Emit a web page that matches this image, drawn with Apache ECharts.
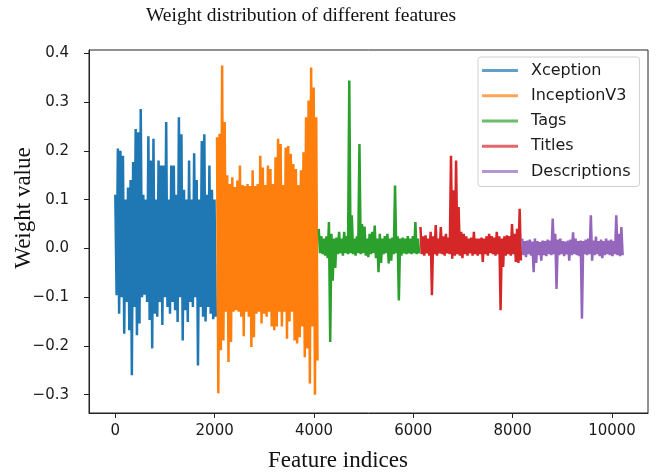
<!DOCTYPE html>
<html>
<head>
<meta charset="utf-8">
<script src="https://cdn.jsdelivr.net/npm/echarts@6/dist/echarts.min.js"></script>
<style>
html,body{margin:0;padding:0;background:#fff;}
#chart{width:661px;height:476px;}
</style>
</head>
<body>
<div id="chart"></div>
<script>
const titleText = 'Weight distribution of different features';
const xAxisName = 'Feature indices';
const yAxisName = 'Weight value';
const seriesNames = ['Xception', 'InceptionV3', 'Tags', 'Titles', 'Descriptions'];
const seriesStart = [0, 2048, 4096, 6144, 8192];
const blockSize = 2048;
const seriesColors = ['#1f77b4', '#ff7f0e', '#2ca02c', '#d62728', '#9467bd'];
const xTickValues = [0, 2000, 4000, 6000, 8000, 10000];
const yTickValues = [-0.3, -0.2, -0.1, 0.0, 0.1, 0.2, 0.3, 0.4];

const xceptionVals = [0.11,-0.096,0.205,-0.134,0.20,-0.10,0.19,-0.175,0.10,-0.11,
0.125,-0.168,0.14,-0.26,0.177,-0.12,0.245,-0.178,0.238,-0.154,
0.286,-0.10,0.11,-0.095,0.10,-0.11,0.23,-0.147,0.18,-0.205,
0.225,-0.134,0.10,-0.14,0.18,-0.11,0.17,-0.157,0.17,-0.10,
0.259,-0.12,0.10,-0.134,0.17,-0.11,0.17,-0.127,0.11,-0.151,
0.269,-0.10,0.234,-0.189,0.12,-0.127,0.10,-0.151,0.18,-0.11,
0.10,-0.12,0.195,-0.10,0.14,-0.24,0.10,-0.12,0.22,-0.14,
0.234,-0.15,0.11,-0.12,0.17,-0.134,0.12,-0.145,0.10,-0.14];

const inceptionVals = [0.228,-0.297,0.235,-0.209,0.375,-0.189,0.259,-0.13,0.15,-0.233,
0.132,-0.192,0.146,-0.13,0.126,-0.127,0.139,-0.13,0.17,-0.14,
0.13,-0.18,0.128,-0.13,0.132,-0.14,0.128,-0.202,0.16,-0.182,
0.128,-0.134,0.132,-0.13,0.19,-0.154,0.166,-0.134,0.13,-0.14,
0.17,-0.13,0.163,-0.16,0.132,-0.168,0.187,-0.16,0.225,-0.13,
0.214,-0.16,0.13,-0.13,0.207,-0.185,0.21,-0.15,0.194,-0.13,
0.173,-0.189,0.163,-0.195,0.13,-0.182,0.16,-0.16,0.197,-0.223,
0.269,-0.205,0.303,-0.277,0.371,-0.16,0.33,-0.30,0.269,-0.23];

const tagsVals = [0.04,-0.01,0.025,-0.012,0.02,-0.015,0.025,-0.02,0.054,-0.192,
0.03,-0.066,0.02,-0.04,0.022,-0.012,0.034,-0.01,0.02,-0.015,
0.034,-0.01,0.025,-0.012,0.344,-0.01,0.068,-0.012,0.02,-0.015,
0.025,-0.01,0.214,-0.012,0.05,-0.01,0.045,-0.015,0.02,-0.018,
0.03,-0.012,0.034,-0.01,0.047,-0.02,0.02,-0.049,0.03,-0.03,
0.02,-0.012,0.025,-0.01,0.03,-0.031,0.02,-0.025,0.022,-0.012,
0.129,-0.01,0.025,-0.107,0.02,-0.015,0.022,-0.01,0.02,-0.012,
0.025,-0.01,0.02,-0.012,0.025,-0.01,0.054,-0.012,0.02,-0.01];

const titlesVals = [0.044,-0.012,0.025,-0.015,0.027,-0.01,0.02,-0.015,0.034,-0.096,
0.025,-0.012,0.048,-0.015,0.02,-0.01,0.044,-0.012,0.025,-0.015,
0.03,-0.01,0.022,-0.012,0.19,-0.021,0.119,-0.015,0.18,-0.012,
0.085,-0.015,0.034,-0.02,0.03,-0.012,0.025,-0.015,0.02,-0.01,
0.022,-0.015,0.034,-0.012,0.02,-0.015,0.02,-0.012,0.022,-0.028,
0.02,-0.012,0.025,-0.015,0.03,-0.01,0.025,-0.012,0.022,-0.015,
0.034,-0.012,0.025,-0.127,0.02,-0.038,0.025,-0.015,0.027,-0.012,
0.025,-0.015,0.05,-0.012,0.03,-0.028,0.04,-0.03,0.081,-0.025];

const descriptionsVals = [0.02,-0.014,0.015,-0.018,0.016,-0.012,0.018,-0.015,0.014,-0.049,
0.02,-0.03,0.015,-0.014,0.013,-0.025,0.016,-0.014,0.015,-0.016,
0.018,-0.012,0.016,-0.014,0.061,-0.012,0.03,-0.083,0.018,-0.014,
0.02,-0.012,0.015,-0.016,0.014,-0.012,0.016,-0.025,0.018,-0.014,
0.033,-0.012,0.02,-0.014,0.015,-0.016,0.016,-0.144,0.015,-0.012,
0.018,-0.014,0.02,-0.012,0.068,-0.025,0.016,-0.014,0.024,-0.012,
0.015,-0.016,0.018,-0.02,0.015,-0.014,0.02,-0.012,0.016,-0.014,
0.018,-0.016,0.015,-0.012,0.068,-0.014,0.03,-0.016,0.044,-0.014];

const allVals = [xceptionVals, inceptionVals, tagsVals, titlesVals, descriptionsVals];

function toPairs(vals, start) {
  const step = blockSize / vals.length;
  return vals.map((v, i) => [start + i * step, v]);
}

const fmtY = v => (v < 0 ? '\u2212' : '') + Math.abs(v).toFixed(1);

const chart = echarts.init(document.getElementById('chart'), null, {renderer: 'canvas'});
chart.setOption({
  animation: false,
  backgroundColor: '#ffffff',
  grid: {left: 89, right: 13, top: 50, bottom: 63, show: true, borderColor: '#222', borderWidth: 1, containLabel: false},
  graphic: [
    {type: 'text', x: 301, y: 15.5, style: {text: titleText, font: '19.5px "Liberation Serif"', fill: '#111', align: 'center', verticalAlign: 'middle'}},
    {type: 'text', x: 338, y: 461, style: {text: xAxisName, font: '23px "Liberation Serif"', fill: '#111', align: 'center', verticalAlign: 'middle'}},
    {type: 'text', x: 24, y: 208, rotation: Math.PI / 2, style: {text: yAxisName, font: '23px "Liberation Serif"', fill: '#111', align: 'center', verticalAlign: 'middle'}}
  ],
  legend: {
    orient: 'vertical',
    left: 478, top: 57,
    padding: [5.5, 9, 7, 4],
    itemWidth: 36, itemHeight: 3, itemGap: 9.25,
    icon: 'rect',
    backgroundColor: '#fff',
    borderColor: '#d0d0d0', borderWidth: 1, borderRadius: 3,
    textStyle: {fontFamily: '"DejaVu Sans"', fontSize: 16, color: '#1a1a1a', lineHeight: 16, padding: [0, 0, 0, 8]},
    itemStyle: {opacity: 0.7},
    data: seriesNames
  },
  xAxis: {
    type: 'value', min: -530, max: 10725,
    splitLine: {show: false},
    axisLine: {show: true, onZero: false, lineStyle: {color: '#222', width: 1}},
    axisTick: {show: true, length: 5, lineStyle: {color: '#222'}, customValues: xTickValues},
    axisLabel: {customValues: xTickValues, fontFamily: '"DejaVu Sans"', fontSize: 15, color: '#1a1a1a', margin: 11, formatter: v => String(v)}
  },
  yAxis: {
    type: 'value', min: -0.3375, max: 0.4068,
    splitLine: {show: false},
    axisLine: {show: true, onZero: false, lineStyle: {color: '#222', width: 1}},
    axisTick: {show: true, length: 5, lineStyle: {color: '#222'}, customValues: yTickValues},
    axisLabel: {customValues: yTickValues, fontFamily: '"DejaVu Sans"', fontSize: 15, color: '#1a1a1a', margin: 20, formatter: fmtY}
  },
  series: seriesNames.map((name, k) => ({
    name: name,
    type: 'line',
    data: toPairs(allVals[k], seriesStart[k]),
    showSymbol: false,
    symbol: 'none',
    color: seriesColors[k],
    lineStyle: {width: 2.5, color: seriesColors[k], join: 'bevel'},
    emphasis: {disabled: true},
    silent: true
  }))
});
</script>
</body>
</html>
